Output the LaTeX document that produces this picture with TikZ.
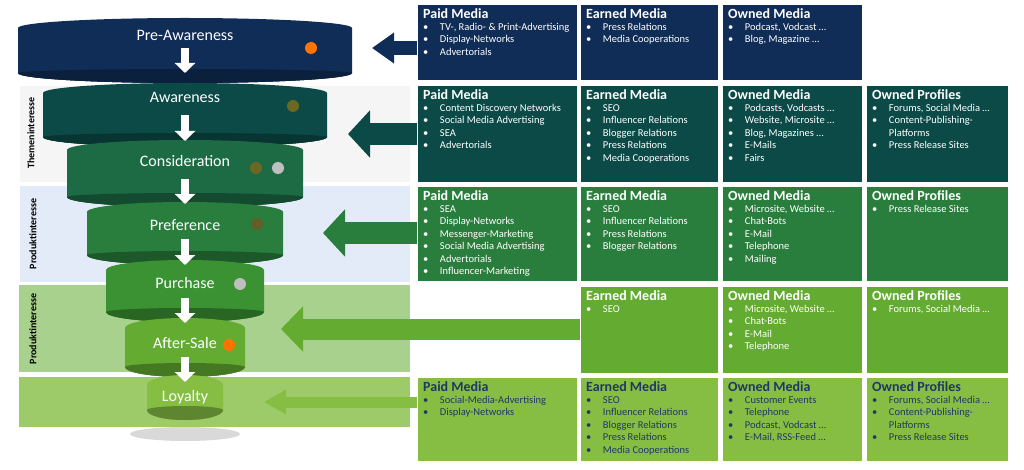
\documentclass[tikz,border=0pt]{standalone}
\usepackage{fontspec}
\setmainfont{Carlito}
\usetikzlibrary{arrows.meta,positioning}
\definecolor{cNavy}{HTML}{0F2D57}
\definecolor{cTeal}{HTML}{0B4A47}
\definecolor{cCons}{HTML}{1D6B45}
\definecolor{cPref}{HTML}{2A7E3D}
\definecolor{cPurch}{HTML}{3A9233}
\definecolor{cAfter}{HTML}{63AB31}
\definecolor{cLoyal}{HTML}{86BE44}
\definecolor{cInk}{HTML}{1F3864}
\definecolor{cBlueBand}{HTML}{E3EBF8}
\newcommand{\ttl}[1]{{\fontsize{14}{16}\bfseries #1}}
\newcommand{\itm}[1]{\textbullet\hspace{1.1em}#1}
\newcommand{\itc}[1]{\phantom{\textbullet}\hspace{1.1em}#1}
% one funnel disc: centre y top, centre y bottom, half width, colour
\newcommand{\disc}[4]{%
  \begin{scope}[xshift=185pt]
  \fill[#4!70!black] (0,#2) ellipse [x radius=#3, y radius=10];
  \fill[#4] (-#3,#1) -- (-#3,#2) arc[start angle=180,end angle=360,x radius=#3,y radius=-10] -- (#3,#1) arc[start angle=0,end angle=180,x radius=#3,y radius=-10] -- cycle;
  \fill[#4!70!black] (-#3,#2) arc[start angle=180,end angle=360,x radius=#3,y radius=-10] arc[start angle=0,end angle=180,x radius=#3,y radius=-4] -- cycle;
  \end{scope}%
}
\begin{document}
\begin{tikzpicture}[x=1pt,y=-1pt,
  box/.style={draw=white,line width=1pt,anchor=north west,minimum height=#1,inner sep=0pt},
  txt/.style={anchor=north west,align=left,inner sep=0pt,text=white,font=\fontsize{10.5}{12.4}\selectfont},
  stage/.style={text=white,font=\fontsize{16}{18}\selectfont},
  side/.style={rotate=90,font=\fontsize{10}{12}\bfseries\selectfont},
  dot/.style={circle,inner sep=0pt,minimum size=12pt},
  down/.style={line width=8pt,-{Triangle[length=10pt,width=20pt]},white},
  big/.style={line width=#1,-{Triangle[length=22pt,width=2.1*#1]}}]
\useasboundingbox (0,0) rectangle (1024,470);
% bands
\fill[gray!8] (20,86) rectangle (410,182);
\fill[cBlueBand] (20,186) rectangle (410,282);
\fill[cAfter!55!white] (19,285) rectangle (410,372);
\fill[cLoyal!80!white] (19,377) rectangle (410,427);
\node[side] (t1) at (31,133) {Themeninteresse};
\node[side] (t2) at (33,234) {Produktinteresse};
\node[side] (t3) at (33,329) {Produktinteresse};
% shadow
\fill[black,opacity=0.15] (185,434) ellipse [x radius=55, y radius=7];
% funnel
\disc{28}{73}{167}{cNavy}
\disc{93}{137}{142}{cTeal}
\disc{150}{197}{118}{cCons}
\disc{212}{255}{98}{cPref}
\disc{270}{312}{79}{cPurch}
\disc{328}{367}{60}{cAfter}
\disc{385}{410}{38}{cLoyal}
\node[stage] (s0) at (185,35) {Pre-Awareness};
\node[stage] (s1) at (185,97) {Awareness};
\node[stage] (s2) at (185,161) {Consideration};
\node[stage] (s3) at (185,225) {Preference};
\node[stage] (s4) at (185,283) {Purchase};
\node[stage] (s5) at (185,343) {After-Sale};
\node[stage] (s6) at (185,397) {Loyalty};
\foreach \a/\b in {48/73,115/141,179/204,239/265,298/323,357/382}
  \draw[down] (185,\a) -- (185,\b);
\node[dot,fill=orange!90!red] (d1) at (311,48) {};
\node[dot,fill=olive!70!black] (d2) at (293,106) {};
\node[dot,fill=olive!70!black] (d3) at (256,168) {};
\node[dot,fill=gray!50] (d4) at (278,168) {};
\node[dot,fill=olive!60!black] (d5) at (257,224) {};
\node[dot,fill=gray!50] (d6) at (240,284) {};
\node[dot,fill=orange!90!red] (d7) at (229,345) {};
% row 0
\node[box=76pt,minimum width=160pt,fill=cNavy] (p0) at (417,4) {};
\node[box=76pt,minimum width=138pt,fill=cNavy] (e0) at (580,4) {};
\node[box=76pt,minimum width=140pt,fill=cNavy] (o0) at (722,4) {};
\node[txt] at (423,8) {\ttl{Paid Media}\\\itm{TV-, Radio- \& Print-Advertising}\\\itm{Display-Networks}\\\itm{Advertorials}};
\node[txt] at (586,8) {\ttl{Earned Media}\\\itm{Press Relations}\\\itm{Media Cooperations}};
\node[txt] at (728,8) {\ttl{Owned Media}\\\itm{Podcast, Vodcast \dots}\\\itm{Blog, Magazine \dots}};
% row 1
\node[box=97pt,minimum width=160pt,fill=cTeal] (p1) at (417,85) {};
\node[box=97pt,minimum width=138pt,fill=cTeal] (e1) at (580,85) {};
\node[box=97pt,minimum width=140pt,fill=cTeal] (o1) at (722,85) {};
\node[box=97pt,minimum width=142pt,fill=cTeal] (f1) at (866,85) {};
\node[txt] at (423,89) {\ttl{Paid Media}\\\itm{Content Discovery Networks}\\\itm{Social Media Advertising}\\\itm{SEA}\\\itm{Advertorials}};
\node[txt] at (586,89) {\ttl{Earned Media}\\\itm{SEO}\\\itm{Influencer Relations}\\\itm{Blogger Relations}\\\itm{Press Relations}\\\itm{Media Cooperations}};
\node[txt] at (728,89) {\ttl{Owned Media}\\\itm{Podcasts, Vodcasts \dots}\\\itm{Website, Microsite \dots}\\\itm{Blog, Magazines \dots}\\\itm{E-Mails}\\\itm{Fairs}};
\node[txt] at (872,89) {\ttl{Owned Profiles}\\\itm{Forums, Social Media \dots}\\\itm{Content-Publishing-}\\\itc{Platforms}\\\itm{Press Release Sites}};
% row 2
\node[box=95pt,minimum width=160pt,fill=cPref] (p2) at (417,186) {};
\node[box=95pt,minimum width=138pt,fill=cPref] (e2) at (580,186) {};
\node[box=95pt,minimum width=140pt,fill=cPref] (o2) at (722,186) {};
\node[box=95pt,minimum width=142pt,fill=cPref] (f2) at (866,186) {};
\node[txt] at (423,190) {\ttl{Paid Media}\\\itm{SEA}\\\itm{Display-Networks}\\\itm{Messenger-Marketing}\\\itm{Social Media Advertising}\\\itm{Advertorials}\\\itm{Influencer-Marketing}};
\node[txt] at (586,190) {\ttl{Earned Media}\\\itm{SEO}\\\itm{Influencer Relations}\\\itm{Press Relations}\\\itm{Blogger Relations}};
\node[txt] at (728,190) {\ttl{Owned Media}\\\itm{Microsite, Website \dots}\\\itm{Chat-Bots}\\\itm{E-Mail}\\\itm{Telephone}\\\itm{Mailing}};
\node[txt] at (872,190) {\ttl{Owned Profiles}\\\itm{Press Release Sites}};
% row 3
\node[box=87pt,minimum width=138pt,fill=cAfter] (e3) at (580,286) {};
\node[box=87pt,minimum width=140pt,fill=cAfter] (o3) at (722,286) {};
\node[box=87pt,minimum width=142pt,fill=cAfter] (f3) at (866,286) {};
\node[txt] at (586,290) {\ttl{Earned Media}\\\itm{SEO}};
\node[txt] at (728,290) {\ttl{Owned Media}\\\itm{Microsite, Website \dots}\\\itm{Chat-Bots}\\\itm{E-Mail}\\\itm{Telephone}};
\node[txt] at (872,290) {\ttl{Owned Profiles}\\\itm{Forums, Social Media \dots}};
% row 4
\node[box=84pt,minimum width=160pt,fill=cLoyal] (p4) at (417,377) {};
\node[box=84pt,minimum width=138pt,fill=cLoyal] (e4) at (580,377) {};
\node[box=84pt,minimum width=140pt,fill=cLoyal] (o4) at (722,377) {};
\node[box=84pt,minimum width=142pt,fill=cLoyal] (f4) at (866,377) {};
\node[txt,text=cInk] at (423,381) {\ttl{Paid Media}\\\itm{Social-Media-Advertising}\\\itm{Display-Networks}};
\node[txt,text=cInk] at (586,381) {\ttl{Earned Media}\\\itm{SEO}\\\itm{Influencer Relations}\\\itm{Blogger Relations}\\\itm{Press Relations}\\\itm{Media Cooperations}};
\node[txt,text=cInk] at (728,381) {\ttl{Owned Media}\\\itm{Customer Events}\\\itm{Telephone}\\\itm{Podcast, Vodcast \dots}\\\itm{E-Mail, RSS-Feed \dots}};
\node[txt,text=cInk] at (872,381) {\ttl{Owned Profiles}\\\itm{Forums, Social Media \dots}\\\itm{Content-Publishing-}\\\itc{Platforms}\\\itm{Press Release Sites}};
% arrows
\coordinate (a0) at (372,48);
\coordinate (a1) at (348,134);
\coordinate (a2) at (323,233);
\coordinate (a3) at (281,329);
\coordinate (a4) at (264,402);
\draw[big=14pt,cNavy] (p0.west|-a0) -- (a0);
\draw[big=22pt,cTeal] (p1.west|-a1) -- (a1);
\draw[big=22pt,cPref] (p2.west|-a2) -- (a2);
\draw[big=21pt,cAfter] (e3.west|-a3) -- (a3);
\draw[big=11pt,cLoyal] (p4.west|-a4) -- (a4);
\end{tikzpicture}
\end{document}
